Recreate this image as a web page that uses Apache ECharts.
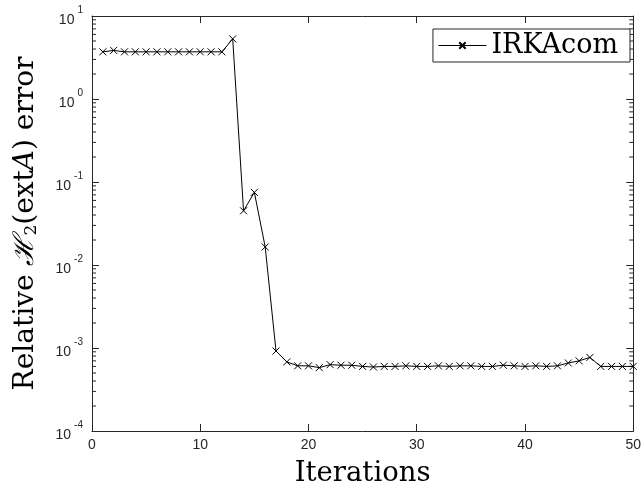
<!DOCTYPE html>
<html><head><meta charset="utf-8">
<script src="https://cdn.jsdelivr.net/npm/echarts@6/dist/echarts.min.js"></script>
<style>html,body{margin:0;padding:0;background:#fff}#c{width:644px;height:493px}</style>
</head><body><div id="c"></div>
<script>
const iterations = [1,2,3,4,5,6,7,8,9,10,11,12,13,14,15,16,17,18,19,20,21,22,23,24,25,26,27,28,29,30,31,32,33,34,35,36,37,38,39,40,41,42,43,44,45,46,47,48,49,50];
const errors = [3.7,3.85,3.7,3.7,3.7,3.7,3.7,3.7,3.7,3.7,3.7,3.7,5.3,0.045,0.075,0.0165,0.00092,0.00068,0.00061,0.00061,0.00058,0.00063,0.00062,0.00062,0.0006,0.00059,0.0006,0.0006,0.00061,0.0006,0.0006,0.00061,0.0006,0.00061,0.00061,0.0006,0.0006,0.00062,0.00061,0.0006,0.00061,0.0006,0.00061,0.00066,0.0007,0.00077,0.0006,0.0006,0.0006,0.0006];
const seriesName = 'IRKAcom';
const xTicks = [0,10,20,30,40,50];
const xMin = 0, xMax = 50;
const yMin = 1e-4, yMax = 10;
const minorExps = [-4,-3,-2,-1,0];
const minorMantissas = [2,3,4,5,6,7,8,9];
const minorVals = [];
minorExps.forEach(e => minorMantissas.forEach(m => minorVals.push(m * Math.pow(10, e))));

const chart = echarts.init(document.getElementById('c'), null, {renderer: 'canvas'});
const tickFont = 'Liberation Sans';
const serif = 'DejaVu Serif';
const axisCol = '#262626';
const yLabel = v => '{b|10}{s|' + Math.round(Math.log10(v)) + '}';
const majorY = (pos, labels) => ({
  type: 'log', logBase: 10, min: yMin, max: yMax, position: pos,
  axisLine: {show: true, onZero: false, lineStyle: {color: axisCol, width: 1}},
  axisTick: {show: true, inside: true, length: 7, lineStyle: {color: axisCol}},
  axisLabel: labels ? {show: true, formatter: yLabel, margin: 9,
     rich: {b: {fontFamily: tickFont, fontSize: 14, color: axisCol, padding: [8,0,0,0]},
            s: {fontFamily: tickFont, fontSize: 10, color: axisCol, verticalAlign: 'top', padding: [0,0,8,3]}}} : {show: false},
  splitLine: {show: false}, minorTick: {show: false}
});
const xAx = (pos, labels) => ({
  type: 'value', min: xMin, max: xMax, interval: 10, position: pos,
  axisLine: {show: true, onZero: false, lineStyle: {color: axisCol}},
  axisTick: {show: true, inside: true, length: 7, lineStyle: {color: axisCol}},
  axisLabel: labels ? {fontFamily: tickFont, fontSize: 14, color: axisCol, margin: 7,
     customValues: xTicks} : {show: false},
  splitLine: {show: false}
});
const minorTickSeries = (xv, dir) => ({
  name: 'minor' + xv, type: 'scatter', xAxisIndex: 0, yAxisIndex: 0,
  silent: true, legendHoverLink: false, clip: false, z: 1,
  data: minorVals.map(v => [xv, v]),
  symbol: 'rect', symbolSize: [4, 1], symbolOffset: [dir * 2, 0],
  itemStyle: {color: axisCol, opacity: 1}
});
const option = {
  animation: false,
  backgroundColor: '#fff',
  grid: {left: 92, right: 6, top: 16, bottom: 60, containLabel: false},
  xAxis: [
    Object.assign(xAx('bottom', true), {
      name: 'Iterations', nameLocation: 'middle', nameGap: 29,
      nameTextStyle: {fontFamily: serif, fontSize: 27.5, color: '#000'}}),
    xAx('top', false)
  ],
  yAxis: [
    Object.assign(majorY('left', true), {
      name: '{t|Relative }{m|ℋ}{sub|2}{t|(ext}{i|A}{t|) error}', nameLocation: 'middle', nameGap: 52,
      nameTextStyle: {rich: {
        t: {fontFamily: serif, fontSize: 28, color: '#000'},
        m: {fontFamily: serif, fontSize: 28, color: '#000', fontStyle: 'italic'},
        i: {fontFamily: serif, fontSize: 28, color: '#000', fontStyle: 'italic'},
        sub: {fontFamily: serif, fontSize: 17, color: '#000', verticalAlign: 'bottom', padding: [12,0,0,0]}
      }}
    }),
    majorY('right', false)
  ],
  legend: {
    show: true, right: 14, top: 29, orient: 'horizontal',
    backgroundColor: '#fff', borderColor: axisCol, borderWidth: 1, borderRadius: 0,
    padding: [3, 12, 3, 5], itemWidth: 48, itemHeight: 8, itemGap: 4,
    lineStyle: {width: 1},
    textStyle: {fontFamily: serif, fontSize: 27, color: '#000'},
    data: [seriesName]
  },
  series: [
    minorTickSeries(xMin, 1),
    minorTickSeries(xMax, -1),
    {
      name: seriesName, type: 'line', xAxisIndex: 0, yAxisIndex: 0,
      data: iterations.map((x, i) => [x, errors[i]]),
      symbol: 'path://M0,0L10,10M10,0L0,10', symbolSize: 7, showSymbol: true,
      lineStyle: {color: '#000', width: 1},
      itemStyle: {color: 'transparent', borderColor: '#000', borderWidth: 1},
      z: 3
    }
  ]
};
chart.setOption(option);
</script></body></html>
